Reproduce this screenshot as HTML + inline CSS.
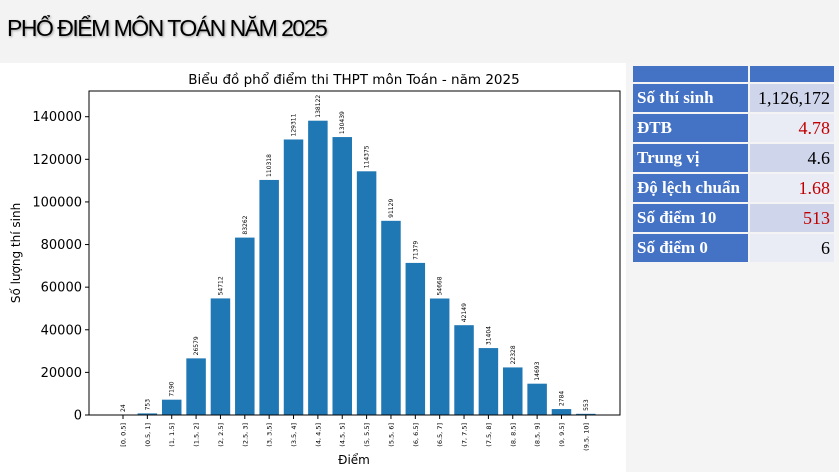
<!DOCTYPE html>
<html><head><meta charset="utf-8"><style>
body{margin:0;width:839px;height:472px;overflow:hidden;background:#f4f4f4;font-family:"DejaVu Sans",sans-serif;position:relative}
#hdr{position:absolute;left:0;top:0;width:839px;height:62px;background:#f3f3f3}
#hdr span{position:absolute;left:7px;top:15px;font-family:"Liberation Sans",sans-serif;font-size:23px;letter-spacing:-1.5px;color:#000;text-shadow:1px 1px 2px rgba(0,0,0,.35)}
#chart{position:absolute;left:0;top:63px;width:626px;height:409px;background:#fff}
table{position:absolute;left:631px;top:64px;border-collapse:separate;border-spacing:2px;font-family:"Liberation Serif",serif;font-size:17px}
td{height:28px;padding:0 4px}
td.l{background:#4472c4;color:#fff;font-weight:bold;width:107px}
td.v{text-align:right;width:76px;font-size:18px}
tr.a td.v{background:#cfd5ea}tr.b td.v{background:#e9ebf5}
.r{color:#c00000}
</style></head><body>
<div id="hdr"><span>PHỔ ĐIỂM MÔN TOÁN NĂM 2025</span></div>
<div id="chart"></div>
<svg id="s" width="839" height="472" style="position:absolute;left:0;top:0" font-family="DejaVu Sans, sans-serif">
<text x="354" y="84" font-size="13.5" text-anchor="middle">Biểu đồ phổ điểm thi THPT môn Toán - năm 2025</text>
<g id="bars"></g>
<rect x="89" y="91" width="531" height="324" fill="none" stroke="#000" stroke-width="1"/>
<text x="354" y="464" font-size="12" text-anchor="middle">Điểm</text>
<text transform="translate(20,253) rotate(-90)" font-size="12" text-anchor="middle">Số lượng thí sinh</text>
</svg>
<table>
<tr><td class="l" style="height:16px"></td><td class="v" style="background:#4472c4;height:16px"></td></tr>
<tr class="a"><td class="l">Số thí sinh</td><td class="v">1,126,172</td></tr>
<tr class="b"><td class="l">ĐTB</td><td class="v r">4.78</td></tr>
<tr class="a"><td class="l">Trung vị</td><td class="v">4.6</td></tr>
<tr class="b"><td class="l">Độ lệch chuẩn</td><td class="v r">1.68</td></tr>
<tr class="a"><td class="l">Số điểm 10</td><td class="v r">513</td></tr>
<tr class="b"><td class="l">Số điểm 0</td><td class="v">6</td></tr>
</table>
<script>
var v=[24,753,7190,26579,54712,83262,110318,129311,138122,130439,114375,91129,71379,54668,42149,31404,22328,14693,2784,553];
var labs=["[0, 0.5]","(0.5, 1]","(1, 1.5]","(1.5, 2]","(2, 2.5]","(2.5, 3]","(3, 3.5]","(3.5, 4]","(4, 4.5]","(4.5, 5]","(5, 5.5]","(5.5, 6]","(6, 6.5]","(6.5, 7]","(7, 7.5]","(7.5, 8]","(8, 8.5]","(8.5, 9]","(9, 9.5]","(9.5, 10]"];
var k=298.3/140000,s="";
for(var i=0;i<20;i++){var cx=123+i*24.36,h=v[i]*k,t=415-h;
s+='<rect x="'+(cx-9.75)+'" y="'+t+'" width="19.5" height="'+h+'" fill="#1f77b4"/>';
s+='<text transform="translate('+(cx+2)+','+(t-3)+') rotate(-90)" font-size="6">'+v[i]+'</text>';
s+='<line x1="'+cx+'" y1="415" x2="'+cx+'" y2="419" stroke="#000"/>';
s+='<text transform="translate('+(cx+2.5)+',423) rotate(-90)" font-size="6.5" text-anchor="end">'+labs[i]+'</text>';}
for(var j=0;j<=7;j++){var y=415-j*20000*k;
s+='<line x1="85" y1="'+y+'" x2="89" y2="'+y+'" stroke="#000"/>';
s+='<text x="82" y="'+(y+4.5)+'" font-size="13" text-anchor="end">'+(j*20000)+'</text>';}
document.getElementById('bars').innerHTML=s;
</script>
</body></html>
